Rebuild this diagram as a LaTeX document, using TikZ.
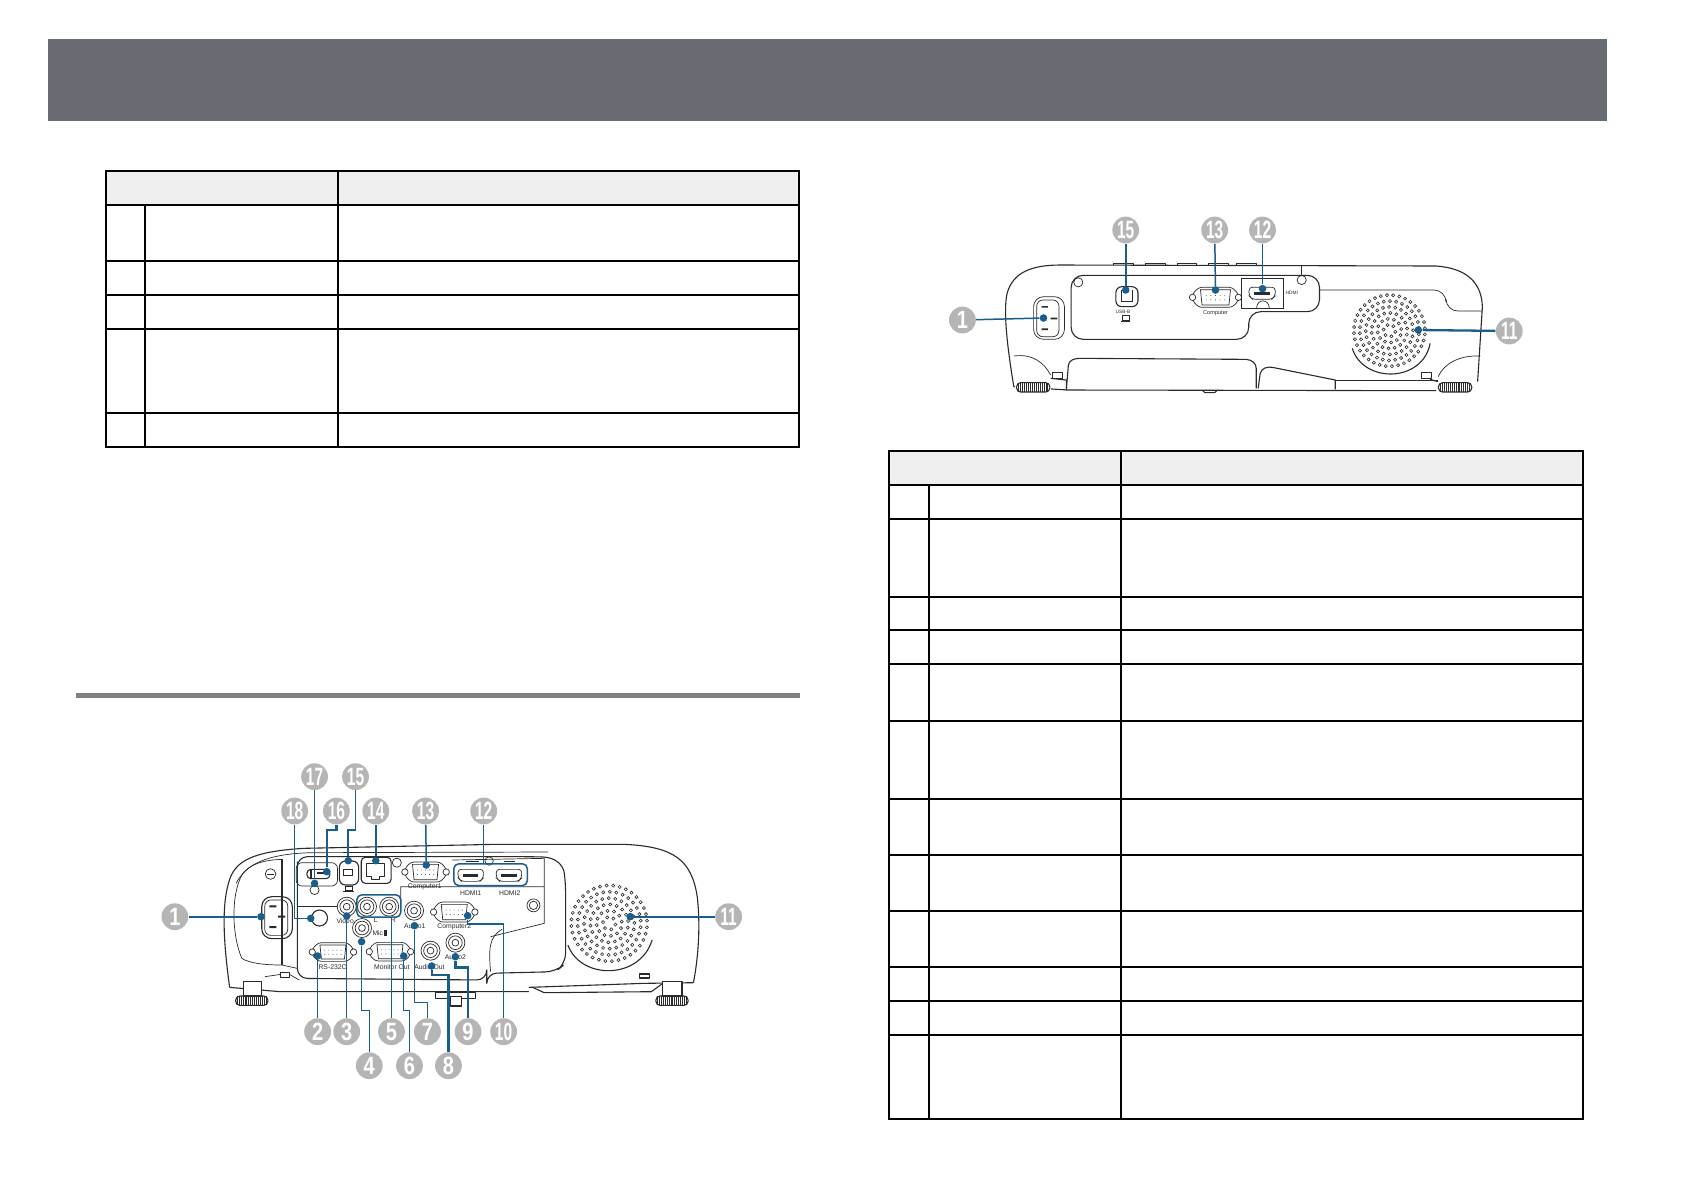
\documentclass[tikz,border=0pt]{standalone}
\usepackage{fontspec}
\setmainfont{Liberation Sans}
\usetikzlibrary{calc}
\definecolor{band}{HTML}{696B72}
\definecolor{rulegrey}{HTML}{808080}
\definecolor{headfill}{HTML}{EFEFEF}
\definecolor{callout}{HTML}{1B5E8C}
\definecolor{bub}{HTML}{B5B5B5}
\definecolor{ink}{HTML}{2A2A2A}
\tikzset{
  tab/.style={black,line width=1pt},
  body/.style={ink,line width=.55pt,line join=round},
  thin part/.style={ink,line width=.35pt},
  bubble/.style={circle,fill=bub,text=white,inner sep=0pt,minimum size=13.4pt,font=\bfseries\fontsize{12.5}{12.5}\selectfont},
  ln/.style={callout,line width=.75pt},
  lnb/.style={callout,line width=1.15pt},
  calloutbox/.style={callout,line width=.75pt,rounded corners=2.5pt},
  dotm/.style={circle,fill=callout,inner sep=0pt,minimum size=3.8pt},
  lab/.style={ink,inner sep=0pt,font=\fontsize{3.4}{4}\selectfont},
}
\newcommand{\nb}[4]{\node[bubble] (#1) at (#2) {\scalebox{#3}[1]{#4}};}
\newcommand{\dt}[2]{\node[dotm] (#1) at (#2) {};}
\newcommand{\cc}[4][thin part]{\draw[#1] (#2,#3) circle [radius=#4*.19pt];}
\newcommand{\rca}[3]{\draw[thin part,fill=white] (#1,#2) circle [radius=#3*.19pt] (#1,#2) circle [radius=#3*.137pt] (#1,#2) circle [radius=#3*.068pt];}
\newcommand{\dsub}[4]{% cx cy halfw halfh
  \draw[thin part,fill=white,rounded corners=1.5pt] ({#1-#3},{#2-#4}) -- ({#1+#3},{#2-#4}) -- ({#1+#3+16},{#2-.35*#4}) -- ({#1+#3+16},{#2+.35*#4}) -- ({#1+#3},{#2+#4}) -- ({#1-#3},{#2+#4}) -- ({#1-#3-16},{#2+.35*#4}) -- ({#1-#3-16},{#2-.35*#4}) -- cycle;
  \draw[thin part] ({#1-#3+4},{#2-#4+7}) -- ({#1+#3-4},{#2-#4+7}) -- ({#1+#3-8},{#2+#4-7}) -- ({#1-#3+8},{#2+#4-7}) -- cycle;
  \draw[thin part,fill=white] ({#1-#3-16},#2) circle [radius=1.6pt] ({#1+#3+16},#2) circle [radius=1.6pt];
  \foreach \i in {-2,...,2}{\fill[ink] ({#1+\i*#3*.28},{#2-.2*#4}) circle [radius=.22pt] ({#1+\i*#3*.28},{#2+.25*#4}) circle [radius=.22pt];}
}
\newcommand{\hdmi}[2]{% cx cy
  \draw[thin part,fill=white,rounded corners=1.5pt] ({#1-33},{#2-18}) -- ({#1+33},{#2-18}) -- ({#1+33},{#2+8}) -- ({#1+24},{#2+18}) -- ({#1-24},{#2+18}) -- ({#1-33},{#2+8}) -- cycle;
  \fill[ink] ({#1-20},{#2-3}) rectangle ({#1+20},{#2+5});
}
\newcommand{\foot}[2]{% cx cy
  \fill[white] ({#1-45},{#2-17}) rectangle ({#1+45},{#2+17});
  \draw[body,rounded corners=2pt] ({#1-42},{#2-14}) rectangle ({#1+42},{#2+14});
  \foreach \k in {-38,-33,...,38}{\draw[thin part] ({#1+\k},{#2-13}) -- ({#1+\k},{#2+13});}
}
\newcommand{\grille}[4]{% cx cy unit aspect
  \foreach \r/\n in {1/6,2/12,3/18,4/24,5/30,6/36}{
    \pgfmathsetmacro{\st}{360/\n}
    \foreach \k in {1,...,\n}{
      \draw[ink,line width=.3pt] ({#1+\r*#3*cos(\k*\st+\r*11)},{#2+#4*\r*#3*sin(\k*\st+\r*11)}) circle [radius=.78pt];
    }
  }
}
\begin{document}
\begin{tikzpicture}[x=.5pt,y=-.5pt]
\useasboundingbox (0,0) rectangle (1684,1190);
\fill[white] (0,0) rectangle (1684,1190);
\fill[band] (48,39) rectangle (1607,121);
\fill[rulegrey] (76,693) rectangle (800,698);

% left table
\fill[headfill] (106,171) rectangle (799,205);
\draw[tab] (106,171) rectangle (799,447);
\foreach \yy in {205,260.5,295,329,413}{\draw[tab] (106,\yy) -- (799,\yy);}
\draw[tab] (338,171) -- (338,447);
\draw[tab] (145,205) -- (145,447);

% right table
\fill[headfill] (889,451) rectangle (1583,485);
\draw[tab] (889,451) rectangle (1583,1118.5);
\foreach \yy in {485,518.8,596.5,630.4,664.4,721,798.8,854.6,910.8,966.6,1000.5,1035}{\draw[tab] (889,\yy) -- (1583,\yy);}
\draw[tab] (1121,451) -- (1121,1118.5);
\draw[tab] (929,485) -- (929,1118.5);

% ===== lower-left projector (rear, full model) =====
\begin{scope}[shift={(150,750)},x=.19135pt,y=-.16667pt]
  \draw[body] (208,712) .. controls (195,600) and (185,480) .. (205,400) .. controls (220,330) and (270,305) .. (400,295) -- (900,283) -- (1240,283) .. controls (1370,290) and (1415,330) .. (1430,440) .. controls (1440,540) and (1430,640) .. (1420,698);
  \draw[body] (208,712) -- (340,725) -- (990,725);
  \draw[body] (990,712) -- (1290,700) -- (1420,698);
  \draw[body] (1000,712) -- (1030,728) -- (1310,725) -- (1340,700);
  \draw[thin part] (225,400) .. controls (250,345) and (300,312) .. (420,308) -- (1040,306);
  \draw[thin part] (240,625) .. controls (215,560) and (210,440) .. (240,375) .. controls (260,340) and (300,330) .. (345,328);
  \draw[thin part] (240,625) .. controls (260,640) and (300,645) .. (345,645) -- (385,655);
  \draw[body] (345,328) -- (345,645);
  % panel
  \draw[body,rounded corners=5pt] (385,335) -- (385,470) -- (385,685) -- (880,690) -- (880,670) -- (1060,665) -- (1086,640) -- (1086,400) .. controls (1080,345) and (1060,322) .. (1000,320) -- (385,320) -- (385,335);
  \draw[thin part] (890,665) .. controls (885,600) and (885,560) .. (920,538);
  \draw[thin part] (890,560) -- (1030,520) -- (1030,410) -- (790,410) -- (655,410) -- (655,470);
  \draw[thin part] (790,330) -- (1030,325) -- (1030,410);
  \draw[thin part,rounded corners=3pt] (382,338) rectangle (490,408);
  \draw[thin part,rounded corners=3pt] (385,470) -- (510,470);
  \draw[thin part] (300,680) -- (360,670) -- (390,690);
  \draw[body,fill=white] (340,668) rectangle (365,682);
  \draw[body,fill=white] (1280,672) rectangle (1305,684);
  % screw at upper left
  \cc{315}{372}{14}
  \draw[thin part] (305,372) -- (325,372);
  % power inlet
  \draw[body,rounded corners=5pt] (292,440) rectangle (372,566);
  \draw[thin part,rounded corners=3pt] (300,450) rectangle (360,556);
  \fill[ink] (312,466) rectangle (330,472) (335,497) rectangle (353,503) (312,528) rectangle (330,534);
  % HDMI-type ports
  \hdmi{838}{376}
  \hdmi{938}{376}
  \cc{886}{333}{11}
  \draw[thin part] (825,333) -- (860,333) (925,333) -- (955,333);
  % wifi/usb A
  \draw[body,rounded corners=2pt] (410,358) rectangle (470,386);
  \fill[ink] (436,366) rectangle (470,372);
  \fill[ink] (418,360) rectangle (423,385);
  \cc{430}{420}{12}
  % usb b
  \draw[body,rounded corners=3pt] (495,333) rectangle (545,405);
  \draw[thin part,fill=white] (505,358) rectangle (530,376);
  % computer icon under USB
  \draw[thin part] (510,408) rectangle (528,420);
  \fill[ink] (505,423) rectangle (532,426);
  % LAN
  \draw[body,rounded corners=2pt] (552,322) rectangle (630,400);
  \draw[body] (565,340) -- (612,340) -- (612,380) -- (600,380) -- (600,388) -- (578,388) -- (578,380) -- (565,380) -- cycle;
  \cc{645}{338}{12}
  % D-subs
  \dsub{720}{366}{38}{30}
  \dsub{795}{486}{38}{30}
  \dsub{478}{606}{38}{28}
  \dsub{627}{605}{38}{28}
  % AV jacks
  \rca{514}{470}{25}
  \rca{567}{470}{25}
  \rca{625}{470}{25}
  \rca{690}{482}{25}
  \rca{554}{534}{25}
  \rca{733}{602}{25}
  \rca{798}{578}{25}
  % sensor
  \draw[body,fill=white] (443,504) circle [radius=4pt];
  \cc{1002}{466}{17}
  \cc{1002}{466}{11}
  % speaker
  \grille{1200}{520}{16.5}{1.148}
  \draw[body] (1092,585) .. controls (1125,690) and (1280,690) .. (1312,570);
  % feet
  \foot{266}{752}
  \foot{1364}{752}
  \draw[body,fill=white] (245,695) rectangle (292,738);
  \draw[body,fill=white] (1340,695) rectangle (1390,738);
  \draw[body] (745,728) -- (850,728) -- (850,745) -- (745,745) -- cycle;
  \draw[body,fill=white] (785,740) rectangle (815,768);
  % labels
  \node[lab] (t1) at (718,410) {Computer1};
  \node[lab] (t2) at (838,428) {HDMI1};
  \node[lab] (t3) at (940,428) {HDMI2};
  \node[lab] (t4) at (795,530) {Computer2};
  \node[lab] (t5) at (477,652) {RS-232C};
  \node[lab] (t6) at (632,650) {Monitor Out};
  \node[lab] (t7) at (730,652) {Audio Out};
  \node[lab] (t8) at (692,527) {Audio1};
  \node[lab] (t9) at (798,622) {Audio2};
  \node[lab] (t10) at (510,513) {Video};
  \node[lab] (t11) at (600,549) {Mic\,\rule[-.2pt]{1.2pt}{2.6pt}};
  \node[lab] (t12) at (590,511) {L};
  \node[lab] (t13) at (636,511) {R};
  % callout boxes
  \node[draw=none,inner sep=0pt,minimum width=21.6pt,minimum height=10.8pt] (cb5) at (598,468) {};
  \draw[calloutbox] (cb5.south west) rectangle (cb5.north east);
  \node[draw=none,inner sep=0pt,minimum width=36.4pt,minimum height=10.5pt] (cb12) at (890,374) {};
  \draw[calloutbox] (cb12.south west) rectangle (cb12.north east);
  % bubbles
  \nb{a1}{65,500}{.8}{1}
  \nb{a2}{438,845}{.8}{2}
  \nb{a3}{514,845}{.8}{3}
  \nb{a4}{573,947}{.8}{4}
  \nb{a5}{631,845}{.8}{5}
  \nb{a6}{678,947}{.8}{6}
  \nb{a7}{725,845}{.8}{7}
  \nb{a8}{780,947}{.8}{8}
  \nb{a9}{831,845}{.8}{9}
  \nb{a10}{924,845}{.62}{10}
  \nb{a11}{1512,500}{.62}{11}
  \nb{a12}{872,183}{.62}{12}
  \nb{a13}{720,183}{.62}{13}
  \nb{a14}{590,183}{.62}{14}
  \nb{a15}{537,80}{.62}{15}
  \nb{a16}{487,183}{.62}{16}
  \nb{a17}{430,80}{.62}{17}
  \nb{a18}{378,183}{.62}{18}
  % dots
  \dt{d1}{290,500}
  \dt{d2}{438,618}
  \dt{d3}{514,498}
  \dt{d4}{553,575}
  \dt{d6}{663,618}
  \dt{d7}{691,527}
  \dt{d8}{736,648}
  \dt{d9}{798,620}
  \dt{d10}{830,497}
  \dt{d11}{1255,500}
  \dt{d13}{722,345}
  \dt{d14}{590,332}
  \dt{d15}{518,332}
  \dt{d16}{462,365}
  \dt{d17}{430,400}
  \dt{d18}{420,505}
  % connectors
  \draw[lnb] (a1) -- (d1);
  \draw[ln] (d2) -- (a2);
  \draw[ln] (d3) -- (a3);
  \draw[ln] (d4) -- ++(0,207) -| (a4);
  \draw[ln] (cb5.south -| a5) -- (a5);
  \draw[ln] (d6) -- ++(0,164) -| (a6);
  \draw[ln] (d7) -- ++(0,230) -| (a7);
  \draw[lnb] (d8) -- ++(0,27) -| (a8);
  \draw[lnb] (d9) -- ++(0,32) -| (a9);
  \draw[ln] (d10) -- ++(0,25) -| (a10);
  \draw[lnb] (d11) -- (a11);
  \draw[ln] (cb12.north -| a12) -- (a12);
  \draw[ln] (d13) -- (a13);
  \draw[lnb] (d14) -- (a14);
  \draw[ln] (d15) -- ++(0,-92) -| (a15);
  \draw[lnb] (d16) -- ++(0,-125) -| (a16);
  \draw[ln] (d17) -- (a17);
  \draw[ln] (d18) -| (a18);
\end{scope}

% ===== upper-right projector =====
\begin{scope}[shift={(930,200)},x=.1977pt,y=-.16667pt]
  \draw[body] (212,560) .. controls (195,440) and (185,330) .. (195,280) .. controls (210,215) and (260,195) .. (330,195) -- (1280,198) .. controls (1360,205) and (1395,250) .. (1397,320) -- (1385,545);
  \draw[body] (212,560) -- (350,570) -- (1280,572);
  \foreach \xa in {465,545,625,705,775}{\draw[body] (\xa,195) -- (\xa,190) -- (\xa+50,190) -- (\xa+50,195);}
  \draw[thin part] (938,197) -- (938,226);
  \draw[body,rounded corners=6pt] (357,226) -- (357,418) -- (806,418) -- (806,335) -- (985,335) -- (985,226) -- cycle;
  \draw[thin part,rounded corners=6pt] (985,270) -- (1305,270) -- (1305,333) -- (1397,333);
  \cc{375}{247}{12}
  \cc{940}{240}{12}
  % power inlet
  \draw[thin part,rounded corners=5pt] (262,290) rectangle (340,418);
  \draw[thin part,rounded corners=3pt] (270,300) rectangle (326,410);
  \fill[ink] (282,318) rectangle (298,323) (305,353) rectangle (322,358) (282,385) rectangle (298,390);
  % USB
  \draw[body,rounded corners=3pt] (470,260) rectangle (526,320);
  \draw[thin part] (483,270) -- (483,305) -- (512,305) -- (512,270);
  \node[lab,font=\fontsize{2.4}{3}\selectfont] (r1) at (488,335) {USB-B};
  \draw[thin part] (486,345) rectangle (503,360);
  \fill[ink] (482,363) rectangle (507,367);
  % VGA
  \dsub{722}{292}{42}{30}
  \node[lab,font=\fontsize{2.8}{3}\selectfont] (r2) at (722,338) {Computer};
  % HDMI box
  \draw[thin part] (787,235) rectangle (893,325);
  \hdmi{840}{280}
  \draw[thin part] (826,325) .. controls (826,295) and (858,295) .. (858,325);
  \node[lab,font=\fontsize{2.4}{3}\selectfont] (r3) at (915,278) {HDMI};
  % speaker
  \grille{1162}{392}{15}{1.186}
  \draw[body] (1068,445) .. controls (1095,550) and (1245,550) .. (1265,430);
  % lower
  \draw[body] (345,565) -- (350,495) .. controls (352,480) and (365,475) .. (380,475) -- (800,478) .. controls (815,480) and (825,490) .. (825,505) -- (825,565);
  \draw[body] (830,565) -- (835,520) .. controls (840,505) and (850,498) .. (870,503) -- (1025,540) -- (1025,568);
  \draw[thin part] (1025,540) -- (1285,540);
  \draw[thin part] (212,468) .. controls (260,460) and (290,490) .. (305,525);
  \draw[thin part] (1285,530) .. controls (1300,490) and (1340,465) .. (1392,468);
  \draw[body,fill=white] (310,518) rectangle (335,535);
  \draw[body,fill=white] (1243,518) rectangle (1268,535);
  \draw[body] (305,535) -- (345,540) -- (345,572);
  \draw[body] (1265,538) -- (1285,545);
  \foot{261}{562}
  \foot{1328}{562}
  \draw[body] (690,572) -- (695,578) -- (720,578) -- (725,572);
  % bubbles
  \nb{c15}{495,90}{.62}{15}
  \nb{c13}{720,90}{.62}{13}
  \nb{c12}{841,90}{.62}{12}
  \nb{c1}{82,360}{.8}{1}
  \nb{c11}{1465,393}{.62}{11}
  \dt{e15}{495,270}
  \dt{e13}{722,270}
  \dt{e12}{841,266}
  \dt{e1}{287,354}
  \dt{e11}{1235,390}
  \draw[lnb] (c15) -- (e15);
  \draw[ln] (c13) -- (e13);
  \draw[ln] (c12) -- (e12);
  \draw[ln] (c1) -- (e1);
  \draw[lnb] (c11) -- (e11);
\end{scope}
\end{tikzpicture}
\end{document}
